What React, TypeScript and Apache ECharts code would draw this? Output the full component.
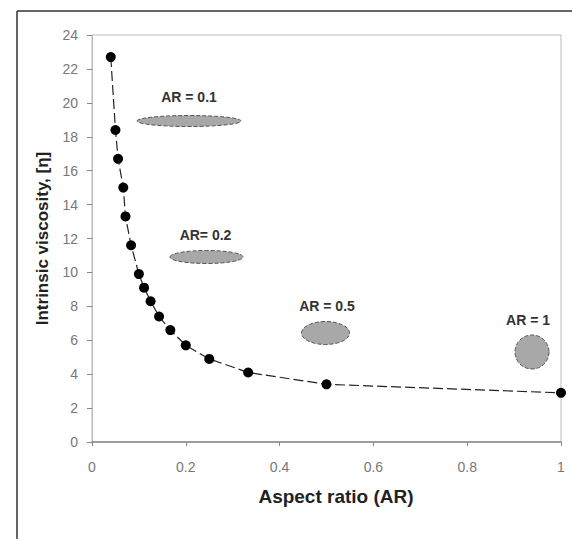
import React, { useEffect, useRef } from "react";
import * as echarts from "echarts";

const aspectRatios = [0.04, 0.05, 0.0556, 0.0667, 0.0714, 0.0833, 0.1, 0.111, 0.125, 0.143, 0.167, 0.2, 0.25, 0.333, 0.5, 1];
const viscosity = [22.7, 18.4, 16.7, 15.0, 13.3, 11.6, 9.9, 9.1, 8.3, 7.4, 6.6, 5.7, 4.9, 4.1, 3.4, 2.9];
const xTicks = [0, 0.2, 0.4, 0.6, 0.8, 1];
const annotationLabels = ["AR = 0.1", "AR= 0.2", "AR = 0.5", "AR = 1"];

export default function App() {
  const ref = useRef<HTMLDivElement>(null);
  useEffect(() => {
    document.body.style.margin = "0";
    const chart = echarts.init(ref.current!, null, { renderer: "svg" });
    const font = "Arial, 'Liberation Sans', sans-serif";
    const shapeStyle = { fill: "#a8a8a8", stroke: "#555", lineWidth: 1, lineDash: [4, 2] };
    const labelStyle = (x: number, y: number, t: string) => ({
      type: "text",
      x,
      y,
      style: { text: t, font: `bold 14px ${font}`, fill: "#333", textAlign: "center", textVerticalAlign: "middle" },
    });
    chart.setOption({
      animation: false,
      backgroundColor: "#fff",
      grid: { left: 92, top: 35, width: 469, height: 407, show: true, borderColor: "#bbb", borderWidth: 1 },
      xAxis: {
        type: "value",
        min: 0,
        max: 1,
        interval: 0.2,
        name: "Aspect ratio (AR)",
        nameLocation: "middle",
        nameGap: 45,
        nameTextStyle: { fontFamily: font, fontWeight: "bold", fontSize: 19, color: "#222", padding: [0, 0, 0, 19] },
        axisLine: { show: true, lineStyle: { color: "#888", width: 1.5 } },
        axisTick: { show: true, length: 4, lineStyle: { color: "#888" } },
        axisLabel: {
          fontFamily: font,
          fontSize: 14,
          color: "#777",
          margin: 18,
          formatter: (v: number) => {
            const t = xTicks.find((k) => Math.abs(k - v) < 1e-9);
            return t === undefined ? "" : String(t);
          },
        },
        splitLine: { show: false },
      },
      yAxis: {
        type: "value",
        min: 0,
        max: 24,
        interval: 2,
        name: "Intrinsic viscosity, [η]",
        nameLocation: "middle",
        nameGap: 41,
        nameTextStyle: { fontFamily: font, fontWeight: "bold", fontSize: 17, color: "#222" },
        axisLine: { show: true, lineStyle: { color: "#bbb", width: 1 } },
        axisTick: { show: true, length: 5, lineStyle: { color: "#888" } },
        axisLabel: { fontFamily: font, fontSize: 14, color: "#777", margin: 14 },
        splitLine: { show: false },
      },
      series: [
        {
          type: "line",
          data: aspectRatios.map((x, i) => [x, viscosity[i]]),
          symbol: "circle",
          symbolSize: 10,
          clip: false,
          itemStyle: { color: "#000" },
          lineStyle: { color: "#222", width: 1.2, type: [10, 4] },
        },
      ],
      graphic: [
        { type: "line", shape: { x1: 17, y1: 11, x2: 17, y2: 539 }, style: { stroke: "#333", lineWidth: 1.5 } },
        { type: "line", shape: { x1: 17, y1: 11, x2: 572, y2: 11 }, style: { stroke: "#333", lineWidth: 1.5 } },
        { type: "ellipse", shape: { cx: 189, cy: 121, rx: 52, ry: 5.5 }, style: shapeStyle },
        labelStyle(189, 97, annotationLabels[0]),
        { type: "ellipse", shape: { cx: 206.5, cy: 257, rx: 36.5, ry: 6.5 }, style: shapeStyle },
        labelStyle(205.5, 235, annotationLabels[1]),
        { type: "ellipse", shape: { cx: 325.5, cy: 333, rx: 24, ry: 11.5 }, style: shapeStyle },
        labelStyle(327, 306, annotationLabels[2]),
        { type: "circle", shape: { cx: 532, cy: 352, r: 17 }, style: shapeStyle },
        labelStyle(528, 320, annotationLabels[3]),
      ],
    });
    return () => chart.dispose();
  }, []);
  return <div ref={ref} style={{ width: 572, height: 539, position: "absolute", left: 0, top: 0 }} />;
}
